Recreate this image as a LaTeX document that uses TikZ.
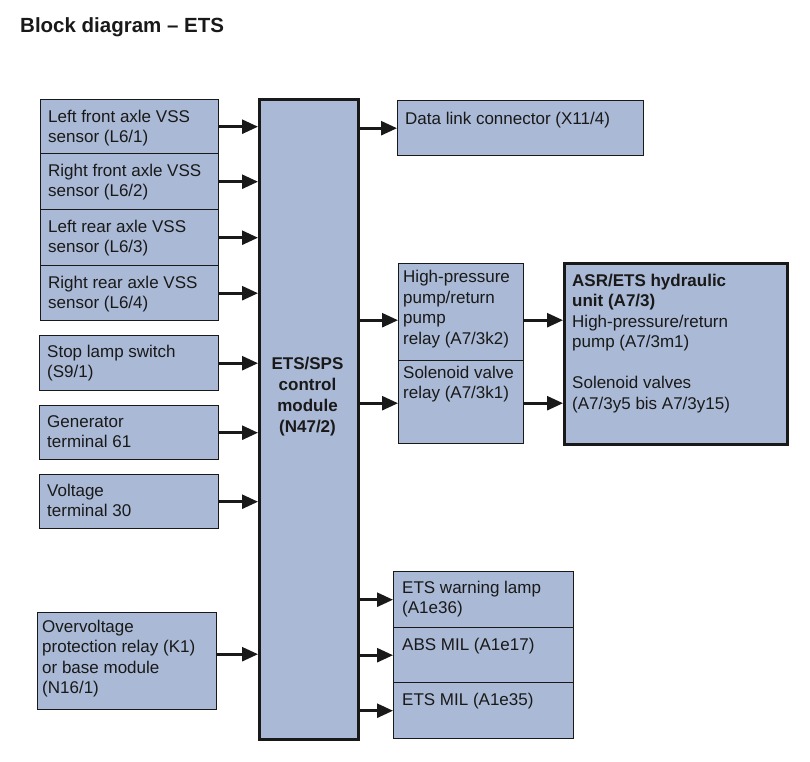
\documentclass[tikz,border=0pt]{standalone}
\usepackage{fontspec}
\setmainfont{Liberation Sans}
\usetikzlibrary{arrows.meta}
\definecolor{boxfill}{RGB}{170,185,213}
\definecolor{ink}{RGB}{25,25,25}
\newcommand\firststrut{\rule{0pt}{13pt}}
\begin{document}
\begin{tikzpicture}[x=1pt,y=-1pt,
  box/.style={draw=ink, fill=boxfill, line width=1.4pt, rectangle, inner sep=0pt, anchor=north west},
  heavy/.style={box, line width=3pt},
  txt/.style={anchor=north west, inner sep=0pt, align=left, text=ink, font=\fontsize{17}{20.5}\selectfont},
  arr/.style={draw=ink, line width=2.6pt, -{Triangle[length=16pt,width=14pt]}},
]
\useasboundingbox (0,0) rectangle (810,761);

% title
\node[anchor=base west, inner sep=0pt, text=ink, font=\bfseries\fontsize{20.5}{24}\selectfont] (title) at (20,32) {Block diagram -- ETS};

% left inputs
\node[box, minimum width=178pt, minimum height=54pt] (s1) at (40,99) {};
\node[box, minimum width=178pt, minimum height=56pt] (s2) at (40,153) {};
\node[box, minimum width=178pt, minimum height=56pt] (s3) at (40,209) {};
\node[box, minimum width=178pt, minimum height=55pt] (s4) at (40,265) {};
\node[box, minimum width=179pt, minimum height=55pt] (st) at (39,335) {};
\node[box, minimum width=179pt, minimum height=54pt] (gen) at (39,405) {};
\node[box, minimum width=179pt, minimum height=54pt] (volt) at (39,474) {};
\node[box, minimum width=179pt, minimum height=97pt] (ov) at (37,612) {};

\node[txt] (t1) at (48,109) {\firststrut Left front axle VSS\\sensor (L6/1)};
\node[txt] (t2) at (48,163) {\firststrut Right front axle VSS\\sensor (L6/2)};
\node[txt] (t3) at (48,219) {\firststrut Left rear axle VSS\\sensor (L6/3)};
\node[txt] (t4) at (48,275) {\firststrut Right rear axle VSS\\sensor (L6/4)};
\node[txt] (tst) at (47,344) {\firststrut Stop lamp switch\\(S9/1)};
\node[txt] (tgen) at (47,414) {\firststrut Generator\\terminal 61};
\node[txt] (tvolt) at (47,483) {\firststrut Voltage\\terminal 30};
\node[txt] (tov) at (42,619) {\firststrut Overvoltage\\protection relay (K1)\\or base module\\(N16/1)};

% control module
\node[heavy, minimum width=99pt, minimum height=640pt] (m) at (258,98) {};
\node[align=center, inner sep=0pt, text=ink, font=\bfseries\fontsize{17}{21}\selectfont] (mt) at (307.5,397) {ETS/SPS\\control\\module\\(N47/2)};

% right side
\node[box, minimum width=246pt, minimum height=55pt] (dl) at (397,100) {};
\node[txt] (tdl) at (405,111) {\firststrut Data link connector (X11/4)};

\node[box, minimum width=125pt, minimum height=97pt] (hp) at (398,263) {};
\node[box, minimum width=125pt, minimum height=83pt] (sv) at (398,360) {};
\node[txt, font=\fontsize{17}{20.8}\selectfont] (thp) at (403,269) {\firststrut High-pressure\\pump/return\\pump\\relay (A7/3k2)};
\node[txt] (tsv) at (403,365) {\firststrut Solenoid valve\\relay (A7/3k1)};

\node[heavy, minimum width=223pt, minimum height=181pt] (asr) at (563,262) {};
\node[txt] (tasr) at (572,273) {\firststrut\textbf{ASR/ETS hydraulic}\\\textbf{unit (A7/3)}\\High-pressure/return\\pump (A7/3m1)\\[20.5pt]Solenoid valves\\(A7/3y5 bis A7/3y15)};

\node[box, minimum width=180pt, minimum height=56pt] (warn) at (393,571) {};
\node[box, minimum width=180pt, minimum height=55pt] (abs) at (393,627) {};
\node[box, minimum width=180pt, minimum height=56pt] (mil) at (393,682) {};
\node[txt] (twarn) at (402,580) {\firststrut ETS warning lamp\\(A1e36)};
\node[txt] (tabs) at (402,637) {\firststrut ABS MIL (A1e17)};
\node[txt] (tmil) at (402,692) {\firststrut ETS MIL (A1e35)};

% input arrows
\foreach \n in {s1,s2,s3,s4,st,gen,volt}
  \draw[arr] (\n.east) -- (m.west |- \n.east);
\coordinate (ovout) at ([yshift=7pt]ov.east);
\draw[arr] (ovout) -- (m.west |- ovout);

% output arrows
\draw[arr] (m.east |- dl.west) -- (dl.west);
\coordinate (hpin) at ([yshift=-8pt]hp.west);
\coordinate (svin) at ([yshift=-1pt]sv.west);
\draw[arr] (m.east |- hpin) -- (hpin);
\draw[arr] (m.east |- svin) -- (svin);
\draw[arr] (hp.east |- hpin) -- (asr.west |- hpin);
\draw[arr] (sv.east |- svin) -- (asr.west |- svin);
\foreach \n in {warn,abs,mil}
  \draw[arr] (m.east |- \n.west) -- (\n.west);
\end{tikzpicture}
\end{document}
